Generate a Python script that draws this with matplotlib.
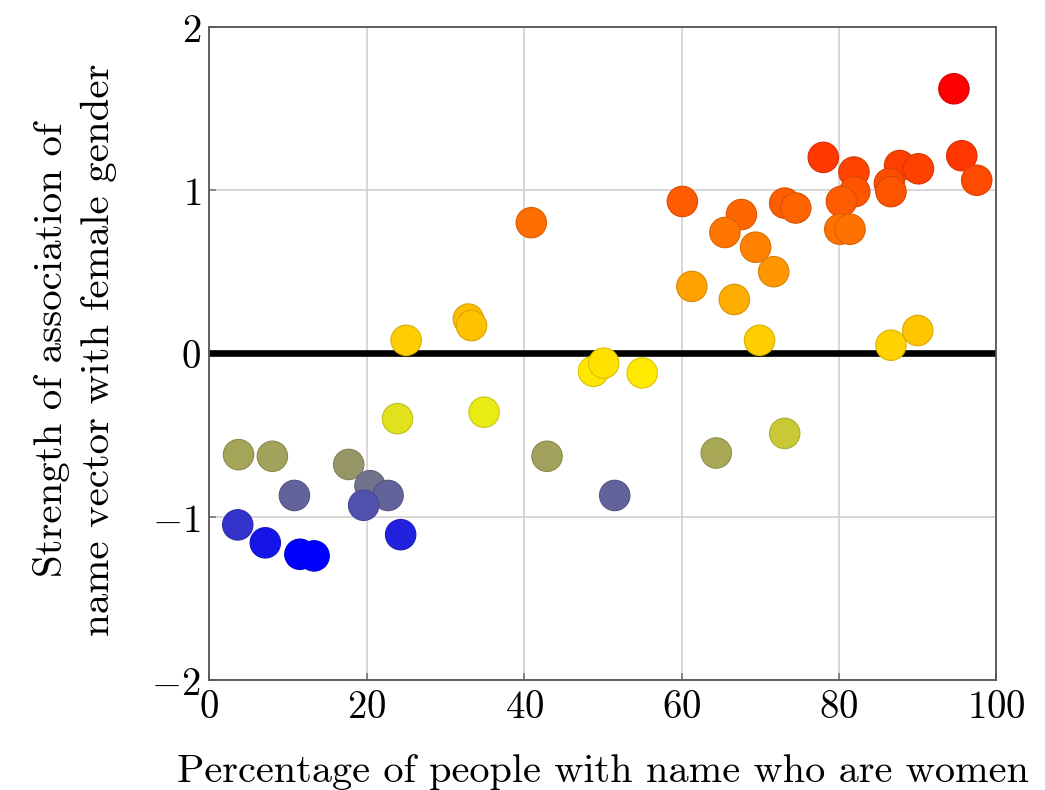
import numpy as np
import matplotlib
matplotlib.use("Agg")
import matplotlib.pyplot as plt
from matplotlib.colors import LinearSegmentedColormap, Normalize

plt.rcParams['mathtext.fontset'] = 'cm'

# Data: percentage of people with name who are women vs. association strength
pct_women = [3.7, 8.0, 17.7, 10.8, 20.4, 22.7, 19.6, 3.6, 7.1, 11.5, 13.3, 24.3,
             23.9, 34.9, 25.0, 32.9, 33.3, 42.9, 51.5, 48.8, 50.1, 55.0,
             94.6, 95.6, 97.5, 78.0, 81.9, 82.0, 80.3, 87.7, 90.1, 86.4, 86.6,
             60.1, 67.6, 73.1, 74.5, 65.5, 69.4, 71.7, 80.1, 81.4, 61.3, 66.7,
             69.9, 86.6, 90.0, 40.9, 64.4, 73.1]
association = [-0.62, -0.63, -0.68, -0.87, -0.81, -0.87, -0.93, -1.05, -1.16, -1.23, -1.24, -1.11,
               -0.40, -0.36, 0.08, 0.21, 0.17, -0.63, -0.87, -0.11, -0.06, -0.12,
               1.62, 1.21, 1.06, 1.20, 1.11, 0.99, 0.93, 1.15, 1.13, 1.04, 0.99,
               0.93, 0.85, 0.92, 0.89, 0.74, 0.65, 0.50, 0.76, 0.76, 0.41, 0.33,
               0.08, 0.05, 0.14, 0.80, -0.61, -0.49]

x_ticks = [0, 20, 40, 60, 80, 100]
y_ticks = [-2, -1, 0, 1, 2]
x_label = "Percentage of people with name who are women"
y_label = "Strength of association of\nname vector with female gender"

cmap = LinearSegmentedColormap.from_list(
    "byr", [(0.0, (0, 0, 1)), (1/3, (1, 1, 0)), (1.0, (1, 0, 0))])

fig = plt.figure(figsize=(10.45, 7.9), dpi=100)
ax = fig.add_axes([0.2004, 0.1392, 0.7531, 0.8270])

yv = np.array(association)
norm = Normalize(vmin=yv.min(), vmax=yv.max())
cols = cmap(norm(yv))
edges = cols.copy()
edges[:, :3] = edges[:, :3] * 0.85

ax.axhline(0, color='black', lw=4.8, zorder=2)
ax.scatter(pct_women, association, s=480, c=cols, edgecolors=edges,
           linewidths=0.8, zorder=3)

ax.set_xlim(0, 100)
ax.set_ylim(-2, 2)
ax.set_xticks(x_ticks)
ax.set_yticks(y_ticks)
ax.set_xticklabels([r'$%d$' % v for v in x_ticks])
ax.set_yticklabels([r'$%d$' % v if v >= 0 else r'$-%d$' % (-v) for v in y_ticks])
ax.tick_params(direction='in', length=5, width=1.2, color='#777777',
               labelsize=28, pad=6)
ax.grid(True, color='#d4d4d4', lw=1.3, zorder=0)
ax.set_axisbelow(True)
for sp in ax.spines.values():
    sp.set_color('#555555')
    sp.set_linewidth(1.3)

fig.text(603/1045, 1 - 772/790, x_label, family='cmr10', fontsize=29,
         ha='center', va='center')
fig.text(75/1045, 1 - 350/790, y_label, family='cmr10', fontsize=29.5,
         ha='center', va='center', rotation=90, linespacing=1.38,
         multialignment='center')

fig.savefig("out.png", dpi=100)
